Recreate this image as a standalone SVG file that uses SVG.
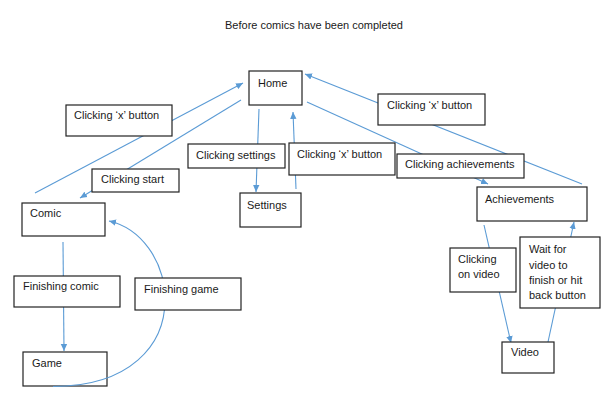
<svg xmlns="http://www.w3.org/2000/svg" width="602" height="401" viewBox="0 0 602 401">
<style>
  .box{fill:#fff;stroke:#222;stroke-width:1.2}
  .t{font-family:"Liberation Sans",Arial,sans-serif;font-size:11px;fill:#1a1a1a}
  .c{fill:none;stroke:#5b9bd5;stroke-width:1.1}
</style>
<defs>
  <marker id="ah" markerUnits="userSpaceOnUse" markerWidth="8" markerHeight="8" refX="7" refY="4" orient="auto">
    <path d="M0,0.8 L7,4 L0,7.2 Z" fill="#5b9bd5"/>
  </marker>
</defs>
<rect width="602" height="401" fill="#fff"/>
<text class="t" x="314" y="29" text-anchor="middle">Before comics have been completed</text>
<g id="connectors">
  <line class="c" x1="35" y1="193" x2="243" y2="83" marker-end="url(#ah)"/>
  <line class="c" x1="241" y1="100" x2="80" y2="198" marker-end="url(#ah)"/>
  <line class="c" x1="259" y1="109" x2="256" y2="192" marker-end="url(#ah)"/>
  <line class="c" x1="296" y1="189" x2="293" y2="112" marker-end="url(#ah)"/>
  <line class="c" x1="307" y1="102" x2="488" y2="184" marker-end="url(#ah)"/>
  <line class="c" x1="582" y1="184" x2="305" y2="74" marker-end="url(#ah)"/>
  <line class="c" x1="63" y1="242" x2="64" y2="351" marker-end="url(#ah)"/>
  <line class="c" x1="484" y1="225" x2="511" y2="343" marker-end="url(#ah)"/>
  <line class="c" x1="548" y1="342" x2="574" y2="222" marker-end="url(#ah)"/>
</g>
<g id="home"><rect class="box" x="249" y="71" width="53" height="34"/><text class="t" x="258" y="87">Home</text></g>
<g id="label-x-left"><rect class="box" x="66" y="105" width="106" height="31"/><text class="t" x="74" y="119">Clicking ‘x’ button</text></g>
<g id="label-start"><rect class="box" x="92" y="169" width="87" height="23"/><text class="t" x="101" y="183">Clicking start</text></g>
<g id="comic"><rect class="box" x="22" y="203" width="83" height="33"/><text class="t" x="30" y="217">Comic</text></g>
<g id="label-settings"><rect class="box" x="188" y="144" width="97" height="24"/><text class="t" x="196" y="159">Clicking settings</text></g>
<g id="settings"><rect class="box" x="240" y="193" width="61" height="34"/><text class="t" x="247" y="209">Settings</text></g>
<g id="label-x-mid"><rect class="box" x="289" y="143" width="106" height="32"/><text class="t" x="297" y="158">Clicking ‘x’ button</text></g>
<g id="label-achievements"><rect class="box" x="397" y="154" width="127" height="24"/><text class="t" x="405" y="168">Clicking achievements</text></g>
<g id="label-x-right"><rect class="box" x="378" y="94" width="107" height="31"/><text class="t" x="387" y="109">Clicking ‘x’ button</text></g>
<g id="achievements"><rect class="box" x="477" y="187" width="110" height="34"/><text class="t" x="485" y="203">Achievements</text></g>
<g id="label-video"><rect class="box" x="450" y="248" width="66" height="44"/><text class="t" x="458" y="263">Clicking</text><text class="t" x="458" y="278">on video</text></g>
<g id="label-wait"><rect class="box" x="520" y="237" width="80" height="71"/><text class="t" x="529" y="253">Wait for</text><text class="t" x="529" y="269">video to</text><text class="t" x="529" y="284">finish or hit</text><text class="t" x="529" y="299">back button</text></g>
<g id="video"><rect class="box" x="502" y="342" width="52" height="31"/><text class="t" x="511" y="356">Video</text></g>
<g id="label-finish-comic"><rect class="box" x="14" y="276" width="106" height="31"/><text class="t" x="23" y="290">Finishing comic</text></g>
<g id="game"><rect class="box" x="23" y="352" width="84" height="34"/><text class="t" x="32" y="367">Game</text></g>
<g id="connector-game-comic">
  <path class="c" d="M53,386.5 C130,386.5 165,345 165,300 C165,260 140,228 109,221" marker-end="url(#ah)"/>
</g>
<g id="label-finish-game"><rect class="box" x="135" y="278" width="106" height="32"/><text class="t" x="144" y="293">Finishing game</text></g>
</svg>
